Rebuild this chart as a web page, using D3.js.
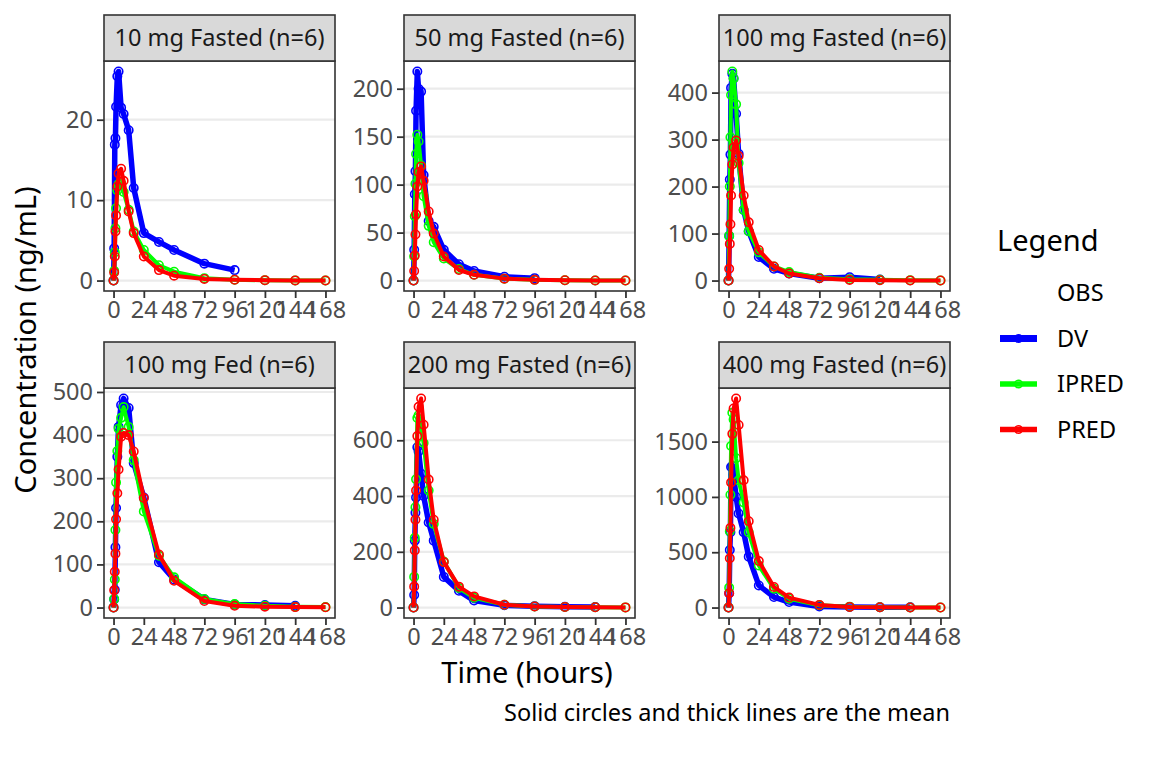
<!DOCTYPE html>
<html>
<head>
<meta charset="utf-8">
<script src="https://cdn.jsdelivr.net/npm/d3@7"></script>
<style>
  html, body { margin: 0; padding: 0; background: #ffffff; }
  text { font-family: "Noto Sans", sans-serif; }
</style>
</head>
<body>
<script>
// ---------------- DATA ----------------
const panelLabels = ["10 mg Fasted (n=6)", "50 mg Fasted (n=6)", "100 mg Fasted (n=6)",
                     "100 mg Fed (n=6)", "200 mg Fasted (n=6)", "400 mg Fasted (n=6)"];
const times = [0, 0.5, 1, 1.5, 2, 3, 4, 6, 8, 12, 16, 24, 36, 48, 72, 96, 120, 144, 168];
const xTicks = [0, 24, 48, 72, 96, 120, 144, 168];
const yTicks = [[0, 10, 20], [0, 50, 100, 150, 200], [0, 100, 200, 300, 400],
                [0, 100, 200, 300, 400, 500], [0, 200, 400, 600], [0, 500, 1000, 1500]];
const seriesNames = ["DV", "IPRED", "PRED"];
const seriesColors = ["#0000FF", "#00FF00", "#FF0000"];

// observed concentrations (mean), per panel; shorter arrays end at last quantifiable time
const dvValues = [
  [0, 4.0, 16.9, 17.7, 21.6, 25.4, 26.0, 21.5, 20.7, 18.7, 11.5, 5.9, 4.8, 3.8, 2.1, 1.3],
  [0, 32, 90, 114, 177, 218, 200, 197, 110, 62, 56, 32, 17, 10, 4, 2.5],
  [0, 95, 215, 268, 410, 440, 430, 355, 270, 150, 105, 50, 25, 15, 5, 7, 2],
  [0, 19, 41, 140, 231, 350, 419, 470, 485, 463, 335, 255, 105, 65, 19, 7, 6, 4],
  [0, 45, 240, 340, 395, 575, 560, 480, 400, 305, 240, 110, 60, 25, 8, 5, 3, 2],
  [0, 130, 520, 680, 1270, 1280, 1200, 1000, 850, 680, 460, 200, 95, 50, 10, 5, 3, 2]
];
const ipredValues = [
  [0, 1.2, 3.5, 6.5, 9.0, 11.2, 12.0, 12.1, 11.0, 8.8, 6.1, 3.8, 1.9, 1.1, 0.3, 0.1, 0.03, 0.01, 0],
  [0, 25, 67, 101, 132, 152, 145, 120, 88, 57, 40, 23, 12, 6, 2, 0.8, 0.3, 0.1, 0.05],
  [0, 95, 200, 305, 395, 445, 430, 375, 250, 150, 105, 60, 30, 18, 6, 3, 1.5, 0.5, 0.2],
  [0, 20, 65, 180, 290, 363, 415, 440, 465, 419, 342, 223, 120, 70, 20, 8, 4, 2, 1],
  [0, 110, 250, 360, 460, 680, 690, 640, 590, 420, 300, 165, 70, 35, 10, 4, 2, 1, 0.5],
  [0, 180, 690, 1020, 1460, 1760, 1700, 1350, 1150, 950, 680, 380, 170, 80, 20, 8, 3, 1, 0.5]
];
const predValues = [
  [0, 1.0, 3.0, 6.1, 8.1, 11.7, 13.3, 13.9, 12.4, 8.6, 5.9, 3.0, 1.3, 0.6, 0.2, 0.1, 0.05, 0.02, 0.01],
  [0, 10, 26, 48, 69, 98, 113, 119, 104, 72, 49, 25, 11, 6, 2, 0.7, 0.3, 0.1, 0.05],
  [0, 25, 78, 120, 181, 247, 283, 298, 265, 181, 124, 65, 30, 15, 5, 1.4, 0.6, 0.3, 0.1],
  [0, 40, 83, 125, 205, 265, 320, 396, 405, 400, 362, 254, 123, 62, 15, 4, 2, 1, 0.5],
  [0, 75, 205, 315, 420, 615, 720, 750, 656, 459, 315, 163, 75, 40, 10, 4, 2, 1, 0.5],
  [0, 130, 445, 720, 1130, 1570, 1800, 1890, 1650, 1150, 780, 420, 186, 90, 24, 6, 3, 1, 0.5]
];
const allSeries = [dvValues, ipredValues, predValues];

// ---------------- LAYOUT ----------------
const W = 1152, H = 768;
const colLeft = [104, 404, 719];
const panelW = 231;
const stripTop = [15, 342];
const stripH = 46;
const panelH = 230;
const smallFont = 23.5, titleFont = 29;
const lineWidths = [5.5, 4, 4];

const svg = d3.select("body").append("svg")
  .attr("width", W).attr("height", H)
  .style("background", "#ffffff");

panelLabels.forEach((label, i) => {
  const col = i % 3, row = Math.floor(i / 3);
  const left = colLeft[col];
  const sTop = stripTop[row];
  const top = sTop + stripH;
  const bottom = top + panelH;

  const x = d3.scaleLinear().domain([0 - 0.045 * 168, 168 + 0.045 * 168]).range([left, left + panelW]);
  const maxY = d3.max(allSeries, s => d3.max(s[i]));
  const y = d3.scaleLinear().domain([-0.05 * maxY, 1.05 * maxY]).range([bottom, top]);

  const g = svg.append("g");

  g.append("rect").attr("x", left).attr("y", top).attr("width", panelW).attr("height", panelH)
    .attr("fill", "#ffffff");

  g.selectAll(".grid").data(yTicks[i]).enter().append("line")
    .attr("x1", left).attr("x2", left + panelW)
    .attr("y1", d => y(d)).attr("y2", d => y(d))
    .attr("stroke", "#EBEBEB").attr("stroke-width", 2.2);

  allSeries.forEach((s, si) => {
    const pts = s[i].map((v, k) => [times[k], v]);
    const line = d3.line().x(d => x(d[0])).y(d => y(d[1]));
    g.append("path").datum(pts).attr("d", line)
      .attr("fill", "none").attr("stroke", seriesColors[si])
      .attr("stroke-width", lineWidths[si]).attr("stroke-linejoin", "round");
    g.selectAll(null).data(pts).enter().append("circle")
      .attr("cx", d => x(d[0])).attr("cy", d => y(d[1])).attr("r", 4.2)
      .attr("fill", "none").attr("stroke", seriesColors[si]).attr("stroke-width", 1.6);
  });

  g.append("rect").attr("x", left).attr("y", top).attr("width", panelW).attr("height", panelH)
    .attr("fill", "none").attr("stroke", "#333333").attr("stroke-width", 1.6);

  g.append("rect").attr("x", left).attr("y", sTop).attr("width", panelW).attr("height", stripH)
    .attr("fill", "#D9D9D9").attr("stroke", "#333333").attr("stroke-width", 1.6);
  g.append("text").attr("x", left + panelW / 2).attr("y", sTop + stripH / 2)
    .attr("dy", "0.35em").attr("text-anchor", "middle")
    .attr("font-size", smallFont).attr("fill", "#1A1A1A").text(label);

  const yAxis = d3.axisLeft(y).tickValues(yTicks[i]).tickFormat(d3.format("d")).tickSize(7).tickPadding(4);
  const ya = svg.append("g").attr("transform", `translate(${left},0)`).call(yAxis);
  const xAxis = d3.axisBottom(x).tickValues(xTicks).tickFormat(d3.format("d")).tickSize(7).tickPadding(3);
  const xa = svg.append("g").attr("transform", `translate(0,${bottom})`).call(xAxis);
  [ya, xa].forEach(a => {
    a.select(".domain").remove();
    a.selectAll(".tick line").attr("stroke", "#333333").attr("stroke-width", 1.8);
    a.selectAll(".tick text").attr("fill", "#4D4D4D").attr("font-size", smallFont)
      .attr("font-family", "Noto Sans");
  });
});

svg.append("text").attr("x", 527).attr("y", 683).attr("text-anchor", "middle")
  .attr("font-size", titleFont).attr("fill", "#000").text("Time (hours)");
svg.append("text").attr("transform", "translate(36,340) rotate(-90)").attr("text-anchor", "middle")
  .attr("font-size", titleFont).attr("fill", "#000").text("Concentration (ng/mL)");

svg.append("text").attr("x", 950).attr("y", 721).attr("text-anchor", "end")
  .attr("font-size", smallFont).attr("fill", "#000")
  .text("Solid circles and thick lines are the mean");

svg.append("text").attr("x", 997).attr("y", 251).attr("font-size", titleFont)
  .attr("fill", "#000").text("Legend");
const legendItems = ["OBS"].concat(seriesNames);
legendItems.forEach((name, k) => {
  const cy = 293 + k * 45.5;
  svg.append("text").attr("x", 1057).attr("y", cy).attr("dy", "0.35em")
    .attr("font-size", smallFont).attr("fill", "#000").text(name);
  if (k > 0) {
    const si = k - 1;
    svg.append("line").attr("x1", 1000).attr("x2", 1037).attr("y1", cy).attr("y2", cy)
      .attr("stroke", seriesColors[si]).attr("stroke-width", si === 0 ? 7 : 5.5);
    svg.append("circle").attr("cx", 1018.5).attr("cy", cy).attr("r", 3.8)
      .attr("fill", "none").attr("stroke", seriesColors[si]).attr("stroke-width", 1.6);
  }
});
</script>
</body>
</html>
